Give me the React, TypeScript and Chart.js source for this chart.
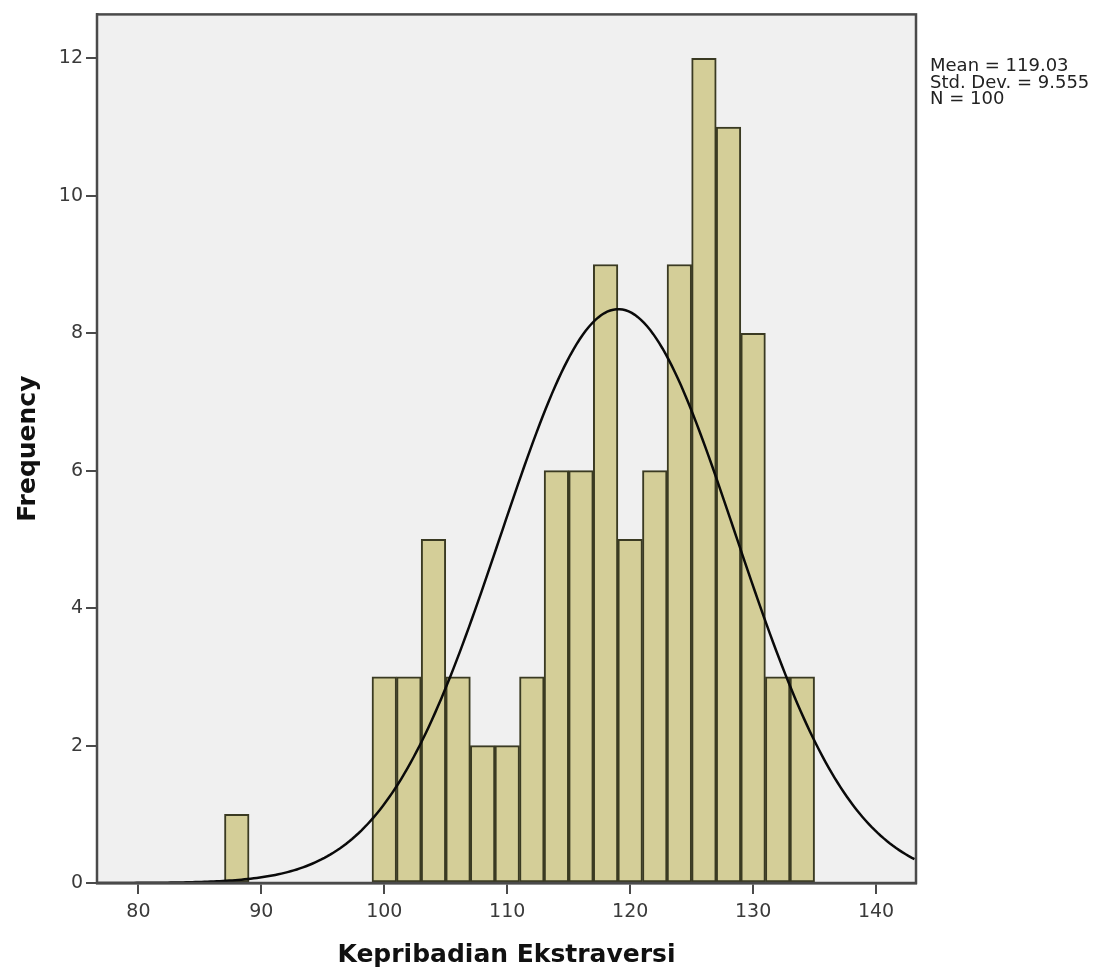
import React, { useEffect, useRef } from "react";
import { Chart, registerables } from "chart.js";

Chart.register(...registerables);

// Histogram bins (bin centres, width 2) and frequencies
const binCenters = [88, 100, 102, 104, 106, 108, 110, 112, 114, 116, 118, 120, 122, 124, 126, 128, 130, 132, 134];
const frequencies = [1, 3, 3, 5, 3, 2, 2, 3, 6, 6, 9, 5, 6, 9, 12, 11, 8, 3, 3];

// Axis ticks
const xTickValues = [80, 90, 100, 110, 120, 130, 140];
const yTickValues = [0, 2, 4, 6, 8, 10, 12];

// Summary statistics shown in the chart
const statMean = 119.03;
const statStdDev = 9.555;
const statN = 100;
const binWidth = 2;
const statLines = ["Mean = 119.03", "Std. Dev. = 9.555", "N = 100"];

const xTitle = "Kepribadian Ekstraversi";
const yTitle = "Frequency";

const X_MIN = 76.63;
const X_MAX = 143.25;
const Y_MAX = 12.64;

// Fitted normal curve implied by the displayed Mean / Std. Dev. / N
const normalCurve: { x: number; y: number }[] = [];
for (let v = X_MIN; v <= X_MAX + 1e-9; v += 0.25) {
  const z = (v - statMean) / statStdDev;
  normalCurve.push({
    x: v,
    y: (statN * binWidth) / (statStdDev * Math.sqrt(2 * Math.PI)) * Math.exp(-0.5 * z * z),
  });
}

const FONT = "'DejaVu Sans', 'Liberation Sans', Arial, sans-serif";

export default function App() {
  const ref = useRef<HTMLCanvasElement | null>(null);

  useEffect(() => {
    if (!ref.current) return;
    document.body.style.margin = "0";

    const framePlugin = {
      id: "frame",
      beforeDatasetsDraw(chart: any) {
        const { ctx, chartArea: a } = chart;
        ctx.save();
        ctx.fillStyle = "#f0f0f0";
        ctx.fillRect(a.left, a.top, a.right - a.left, a.bottom - a.top);
        ctx.restore();
      },
      afterDraw(chart: any) {
        const { ctx, chartArea: a } = chart;
        ctx.save();
        ctx.strokeStyle = "#4a4a4a";
        ctx.lineWidth = 2.5;
        ctx.strokeRect(a.left, a.top, a.right - a.left, a.bottom - a.top);
        // statistics box text
        ctx.fillStyle = "#222";
        ctx.font = `18px ${FONT}`;
        ctx.textBaseline = "alphabetic";
        ctx.textAlign = "left";
        statLines.forEach((t, i) => {
          ctx.fillText(t, 930, 71 + i * 16.5);
        });
        ctx.restore();
      },
    };

    const chart = new Chart(ref.current, {
      type: "bar",
      data: {
        datasets: [
          {
            type: "line",
            data: normalCurve,
            borderColor: "#0a0a0a",
            borderWidth: 2.5,
            pointRadius: 0,
            tension: 0,
            fill: false,
            order: 0,
          } as any,
          {
            type: "bar",
            data: binCenters.map((c, i) => ({ x: c, y: frequencies[i] })),
            backgroundColor: "#d4ce98",
            borderColor: "#3a3a22",
            borderWidth: 2,
            borderSkipped: false,
            barPercentage: 1,
            categoryPercentage: 1,
            order: 1,
          } as any,
        ],
      },
      options: {
        responsive: false,
        animation: false,
        devicePixelRatio: 1,
        layout: { padding: { left: 0, top: 11, right: 189, bottom: 0 } },
        plugins: {
          legend: { display: false },
          tooltip: { enabled: false },
        },
        scales: {
          x: {
            type: "linear",
            min: X_MIN,
            max: X_MAX,
            offset: false,
            afterFit: (s: any) => {
              s.height = 96;
            },
            afterBuildTicks: (s: any) => {
              s.ticks = xTickValues.map((v) => ({ value: v }));
            },
            ticks: {
              font: { family: FONT, size: 19 },
              color: "#3a3a3a",
              padding: 7,
              autoSkip: false,
              maxRotation: 0,
              callback: (v: any) => String(v),
            },
            grid: {
              offset: false,
              drawOnChartArea: false,
              drawTicks: true,
              tickLength: 11,
              color: "#4a4a4a",
              lineWidth: 2,
            },
            border: { display: true, color: "#4a4a4a", width: 2.5 },
            title: {
              display: true,
              text: xTitle,
              font: { family: FONT, size: 25, weight: "bold" },
              color: "#111",
              padding: { top: 0, bottom: 9 },
            },
          },
          y: {
            type: "linear",
            min: 0,
            max: Y_MAX,
            afterFit: (s: any) => {
              s.width = 97;
            },
            afterBuildTicks: (s: any) => {
              s.ticks = yTickValues.map((v) => ({ value: v }));
            },
            ticks: {
              font: { family: FONT, size: 19 },
              color: "#3a3a3a",
              padding: 3,
              autoSkip: false,
              callback: (v: any) => String(v),
            },
            grid: {
              drawOnChartArea: false,
              drawTicks: true,
              tickLength: 11,
              color: "#4a4a4a",
              lineWidth: 2,
            },
            border: { display: true, color: "#4a4a4a", width: 2.5 },
            title: {
              display: true,
              text: yTitle,
              font: { family: FONT, size: 25, weight: "bold" },
              color: "#111",
              padding: { top: 13, bottom: 0 },
            },
          },
        },
      } as any,
      plugins: [framePlugin],
    });

    return () => chart.destroy();
  }, []);

  return (
    <div style={{ position: "absolute", left: 0, top: 0, width: 1105, height: 979, background: "#fff" }}>
      <canvas ref={ref} width={1105} height={979} style={{ width: 1105, height: 979, display: "block" }} />
    </div>
  );
}
